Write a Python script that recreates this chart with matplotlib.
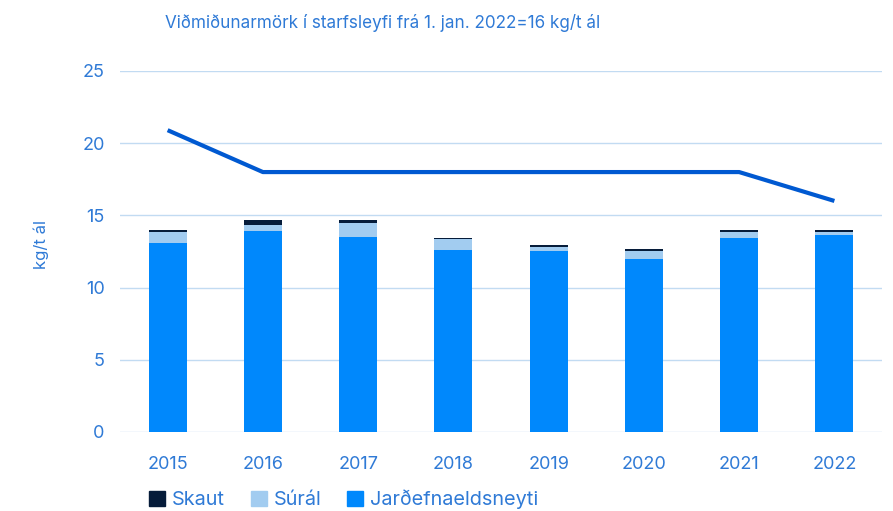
import numpy as np
import matplotlib.pyplot as plt
from matplotlib.patches import Patch

plt.rcParams['font.family'] = ['Inter', 'DejaVu Sans']

years = ['2015', '2016', '2017', '2018', '2019', '2020', '2021', '2022']
jardefnaeldsneyti = [13.1, 13.9, 13.5, 12.6, 12.5, 12.0, 13.4, 13.65]
sural = [0.75, 0.45, 0.95, 0.75, 0.3, 0.55, 0.45, 0.2]
skaut = [0.12, 0.3, 0.2, 0.1, 0.12, 0.12, 0.12, 0.12]
vidmidun = [20.9, 18, 18, 18, 18, 18, 18, 16]

text_col = '#2f7ad6'
c_jard = '#0088fc'
c_sural = '#a2ccf0'
c_skaut = '#061c3a'
c_line = '#0059d1'
c_grid = '#c2dbf2'

fig = plt.figure(figsize=(8.93, 5.11), dpi=100)
ax = fig.add_axes([0.1344, 0.1546, 0.8533, 0.7065])

x = np.arange(len(years))
w = 0.4
j = np.array(jardefnaeldsneyti)
s = np.array(sural)
k = np.array(skaut)
ax.bar(x, j, w, color=c_jard, zorder=3)
ax.bar(x, s, w, bottom=j, color=c_sural, zorder=3)
ax.bar(x, k, w, bottom=j + s, color=c_skaut, zorder=3)
ax.plot(x, vidmidun, color=c_line, lw=3, zorder=4, solid_capstyle='butt')

ax.set_xlim(-0.5, 7.5)
ax.set_ylim(0, 25)
ax.set_yticks([0, 5, 10, 15, 20, 25])
ax.set_xticks(x)
ax.set_xticklabels(years)
ax.grid(axis='y', color=c_grid, lw=1, zorder=0)
for sp in ax.spines.values():
    sp.set_visible(False)
ax.tick_params(axis='both', length=0, labelsize=13, colors=text_col)
ax.tick_params(axis='y', pad=11)
ax.tick_params(axis='x', pad=17)
ax.set_ylabel('kg/t ál', color=text_col, fontsize=12)
ax.yaxis.set_label_coords(-0.093, 0.52)

fig.text(0.185, 0.955, 'Viðmiðunarmörk í starfsleyfi frá 1. jan. 2022=16 kg/t ál',
         color=text_col, fontsize=12.3, ha='left', va='center')

handles = [Patch(color=c_skaut), Patch(color=c_sural), Patch(color=c_jard)]
fig.legend(handles, ['Skaut', 'Súrál', 'Jarðefnaeldsneyti'], loc='lower left',
           bbox_to_anchor=(0.147, -0.032), ncol=3, frameon=False, fontsize=14.3,
           handlelength=0.8, handleheight=0.8, handletextpad=0.35, columnspacing=1.3,
           labelcolor=text_col)

fig.savefig('out.png', dpi=100)
